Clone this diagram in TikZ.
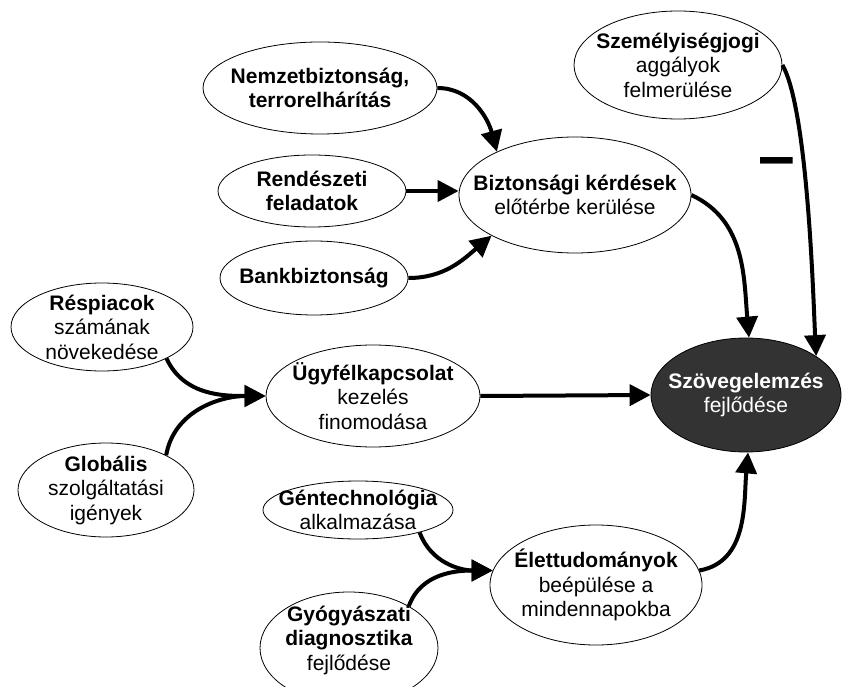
\documentclass[tikz,border=0pt]{standalone}
\usepackage{fontspec}
\setmainfont{Liberation Sans}
\usetikzlibrary{shapes.geometric,arrows.meta}

\begin{document}
\begin{tikzpicture}[x=1pt,y=1pt,
  oval/.style 2 args={ellipse, draw=black, line width=0.8pt, fill=white,
    inner sep=0pt, minimum width=#1, minimum height=#2},
  darkoval/.style 2 args={oval={#1}{#2}, fill=black!80},
  lbl/.style={align=center, inner sep=0pt, font=\fontsize{21}{24.5}\selectfont},
  link/.style={line width=4pt, -{Triangle[length=21pt,width=21pt]}},
  negsign/.style={inner sep=0pt, font=\fontsize{66}{66}\selectfont\bfseries}
]
\useasboundingbox (0,0) rectangle (842,686);

% ---- bubbles ----
\node[oval={234pt}{92pt}]  (nb) at (320,598) {};
\node[oval={188pt}{72pt}]  (rd) at (312,495) {};
\node[oval={188pt}{74pt}]  (bk) at (314,408) {};
\node[oval={232pt}{116pt}] (bz) at (575,491) {};
\node[oval={208pt}{108pt}] (sz) at (678,621) {};
\node[oval={182pt}{88pt}]  (rp) at (102,359) {};
\node[oval={214pt}{102pt}] (uk) at (373,290) {};
\node[oval={176pt}{94pt}]  (gl) at (106,196) {};
\node[darkoval={190pt}{114pt}] (sv) at (746,291) {};
\node[oval={190pt}{58pt}]  (gt) at (358,176) {};
\node[oval={212pt}{120pt}] (el) at (596,101) {};
\node[oval={178pt}{112pt}] (gy) at (349,38) {};

% ---- texts ----
\node[lbl] (nb-t) at (nb) {\textbf{Nemzetbiztonság,}\\\textbf{terrorelhárítás}};
\node[lbl] (rd-t) at (rd) {\textbf{Rendészeti}\\\textbf{feladatok}};
\node[lbl] (bk-t) at (bk) {\textbf{Bankbiztonság}};
\node[lbl] (bz-t) at (bz) {\textbf{Biztonsági kérdések}\\előtérbe kerülése};
\node[lbl] (sz-t) at (sz) {\textbf{Személyiségjogi}\\aggályok\\felmerülése};
\node[lbl] (rp-t) at (rp) {\textbf{Réspiacok}\\számának\\növekedése};
\node[lbl] (uk-t) at (uk) {\textbf{Ügyfélkapcsolat}\\kezelés\\finomodása};
\node[lbl] (gl-t) at (gl) {\textbf{Globális}\\szolgáltatási\\igények};
\node[lbl, text=white] (sv-t) at (sv) {\textbf{Szövegelemzés}\\fejlődése};
\node[lbl] (gt-t) at (gt) {\textbf{Géntechnológia}\\alkalmazása};
\node[lbl] (el-t) at (el) {\textbf{Élettudományok}\\beépülése a\\mindennapokba};
\node[lbl] (gy-t) at (349,46) {\textbf{Gyógyászati}\\\textbf{diagnosztika}\\fejlődése};

% ---- connectors ----
\draw[link] (nb.east) to[out=0,in=105] (bz.151);
\draw[link] (rd.east) -- (rd.east -| bz.west);
\draw[link] (bk.east) to[out=0,in=220] (bz.206);
\draw[link] (bz.east) to[out=-25,in=95] (sv.87);
\draw[link] (sz.east) to[out=-60,in=93,looseness=0.45] (sv.29);
\draw[link] (rp.-26) to[out=-65,in=180] (uk.west);
\draw[link] (gl.30) to[out=80,in=180] (uk.west);
\draw[link] (uk.east) -- (sv.west);
\draw[link] (gt.-20) to[out=-70,in=180] (el.172);
\draw[link] (gy.35) to[out=70,in=180] (el.172);
\draw[link] (el.8) to[out=10,in=-95] (sv.-88);

% negative influence mark
\node[negsign] (neg) at (777,518) {–};
\end{tikzpicture}
\end{document}
